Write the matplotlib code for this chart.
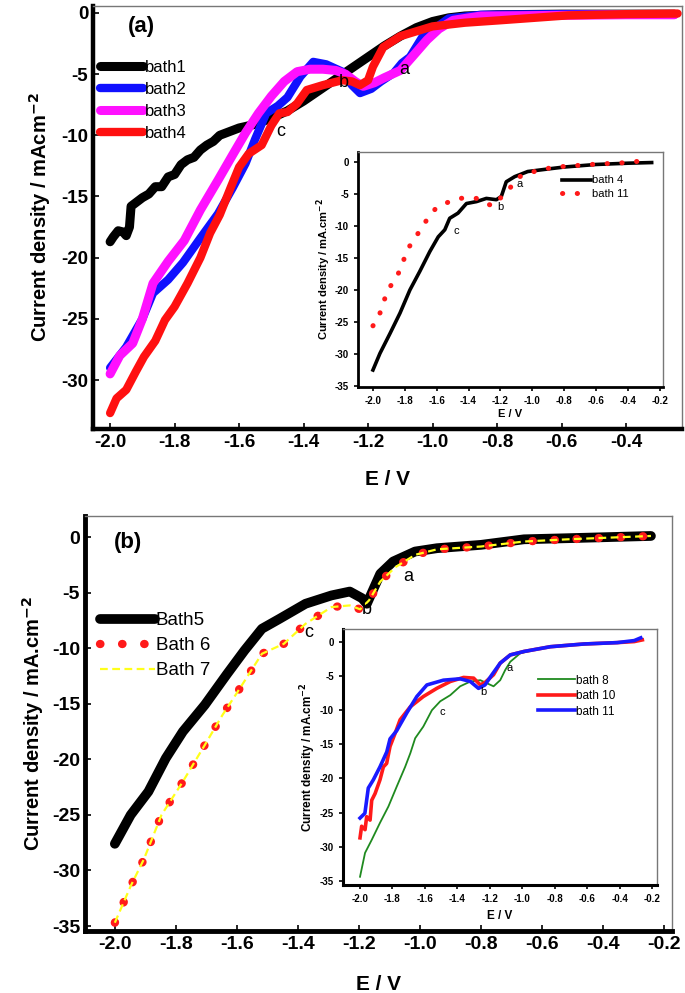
import numpy as np
import matplotlib
matplotlib.use("Agg")
from matplotlib import pyplot as plt

plt.rcParams['font.family'] = ['Liberation Sans', 'DejaVu Sans']
plt.rcParams['axes.unicode_minus'] = False

# ---- panel (a) main: baths 1-4 ----
e_b1 = [-2.0, -1.99, -1.975, -1.96, -1.95, -1.94, -1.935, -1.92, -1.9, -1.88, -1.86, -1.84, -1.82, -1.8,
        -1.78, -1.76, -1.74, -1.72, -1.7, -1.68, -1.66, -1.64, -1.6, -1.55, -1.5, -1.45, -1.4, -1.35,
        -1.3, -1.25, -1.2, -1.15, -1.1, -1.05, -1.0, -0.95, -0.9, -0.8, -0.6, -0.4, -0.25]
j_b1 = [-18.7, -18.3, -17.8, -17.9, -18.2, -17.5, -15.8, -15.5, -15.1, -14.8, -14.2, -14.2, -13.4, -13.2,
        -12.4, -12.0, -11.8, -11.2, -10.8, -10.5, -10.0, -9.8, -9.4, -9.1, -8.6, -8.0, -7.2, -6.3,
        -5.4, -4.5, -3.6, -2.7, -1.9, -1.2, -0.7, -0.4, -0.25, -0.15, -0.1, -0.1, -0.1]

e_b2 = [-2.0, -1.95, -1.9, -1.867, -1.82, -1.774, -1.72, -1.665, -1.62, -1.58, -1.55, -1.516, -1.48,
        -1.45, -1.41, -1.37, -1.33, -1.28, -1.25, -1.225, -1.19, -1.16, -1.12, -1.095, -1.07, -1.03,
        -1.0, -0.95, -0.85, -0.6, -0.4, -0.25]
j_b2 = [-29.0, -27.3, -25.0, -22.9, -21.8, -20.4, -18.4, -16.4, -14.3, -12.3, -10.3, -8.2, -7.6,
        -6.9, -5.2, -4.0, -4.2, -4.8, -5.9, -6.55, -6.2, -5.6, -4.9, -4.1, -3.6, -1.9,
        -1.4, -0.45, -0.15, -0.1, -0.1, -0.1]

e_b3 = [-2.0, -1.97, -1.93, -1.9, -1.867, -1.82, -1.77, -1.72, -1.665, -1.62, -1.58, -1.54, -1.5,
        -1.46, -1.42, -1.38, -1.34, -1.3, -1.27, -1.24, -1.215, -1.18, -1.15, -1.1, -1.06, -1.017,
        -0.98, -0.936, -0.85, -0.6, -0.4, -0.25]
j_b3 = [-29.5, -28.0, -27.0, -25.0, -22.1, -20.3, -18.6, -16.1, -13.65, -11.6, -9.8, -8.2, -6.8,
        -5.6, -4.8, -4.6, -4.6, -4.7, -5.0, -5.6, -6.0, -5.7, -5.3, -4.7, -3.5, -2.2,
        -1.3, -0.6, -0.25, -0.2, -0.15, -0.15]

e_b4 = [-2.0, -1.98, -1.95, -1.92, -1.895, -1.86, -1.83, -1.8, -1.76, -1.72, -1.69, -1.66, -1.625,
        -1.6, -1.57, -1.53, -1.5, -1.475, -1.45, -1.42, -1.39, -1.34, -1.28, -1.25, -1.225, -1.2,
        -1.185, -1.153, -1.1, -1.0, -0.9, -0.79, -0.58, -0.4, -0.24]
j_b4 = [-32.7, -31.5, -30.8, -29.3, -28.1, -26.8, -25.1, -24.0, -22.1, -20.0, -18.0, -16.5, -14.2,
        -12.6, -11.5, -10.8, -9.2, -8.2, -8.1, -7.4, -6.3, -5.9, -5.5, -5.6, -5.9, -5.5,
        -4.4, -2.8, -1.9, -1.1, -0.8, -0.6, -0.2, -0.1, -0.05]

# ---- panel (a) inset: bath 4 vs bath 11 ----
ea_b4 = [-2.0, -1.956, -1.893, -1.83, -1.768, -1.706, -1.643, -1.59, -1.549, -1.518, -1.466, -1.413,
         -1.35, -1.288, -1.225, -1.194, -1.163, -1.11, -1.028, -0.9, -0.8, -0.6, -0.4, -0.25]
ja_b4 = [-32.5, -29.9, -26.8, -23.6, -20.0, -17.1, -14.0, -11.7, -10.6, -8.8, -8.0, -6.5,
         -6.2, -5.7, -5.9, -5.4, -3.1, -2.3, -1.5, -1.1, -0.8, -0.4, -0.2, -0.1]
ea_b11 = [-2.0, -1.967, -1.946, -1.925, -1.904, -1.876, -1.847, -1.82, -1.795, -1.782, -1.743, -1.733,
          -1.69, -1.647, -1.6, -1.538, -1.48, -1.42, -1.35, -1.298, -1.248, -1.19, -1.14, -1.095,
          -1.03, -0.9, -0.8, -0.6, -0.4, -0.3, -0.26]
ja_b11 = [-25.6, -24.4, -22.9, -21.3, -19.9, -18.9, -17.8, -16.2, -14.5, -13.6, -12.2, -11.8,
          -10.1, -8.5, -7.1, -6.4, -5.8, -5.6, -5.7, -6.36, -6.9, -5.4, -4.1, -2.5,
          -1.75, -1.0, -0.7, -0.35, -0.1, 0.2, 0.8]

# ---- panel (b) main: baths 5-7 ----
e_b5 = [-2.0, -1.948, -1.89, -1.833, -1.777, -1.705, -1.633, -1.575, -1.518, -1.46, -1.375, -1.29,
        -1.23, -1.19, -1.174, -1.13, -1.088, -1.016, -0.944, -0.8, -0.659, -0.515, -0.243]
j_b5 = [-27.6, -25.0, -22.9, -19.9, -17.5, -15.1, -12.35, -10.2, -8.25, -7.35, -6.0, -5.25,
        -4.9, -5.5, -6.0, -3.3, -2.2, -1.3, -1.0, -0.7, -0.2, -0.1, 0.1]
e_b6 = [-2.0, -1.948, -1.905, -1.847, -1.777, -1.705, -1.647, -1.59, -1.518, -1.446, -1.375, -1.29,
        -1.23, -1.196, -1.167, -1.13, -1.08, -1.016, -0.944, -0.8, -0.659, -0.515, -0.243]
j_b6 = [-34.7, -31.4, -29.0, -25.0, -22.0, -18.7, -16.0, -13.6, -10.5, -9.6, -7.8, -6.3,
        -6.15, -6.5, -5.7, -4.0, -2.7, -1.6, -1.1, -0.85, -0.4, -0.2, 0.1]
e_b7 = e_b6
j_b7 = j_b6

# ---- panel (b) inset: baths 8, 10, 11 ----
eb_b8 = [-2.0, -1.969, -1.928, -1.877, -1.825, -1.774, -1.722, -1.69, -1.66, -1.61, -1.557, -1.506,
         -1.444, -1.383, -1.32, -1.259, -1.218, -1.177, -1.136, -1.105, -1.074, -1.012, -0.9,
         -0.827, -0.62, -0.415, -0.31, -0.26]
jb_b8 = [-34.4, -30.9, -29.0, -26.5, -24.1, -21.2, -18.3, -16.3, -14.1, -12.4, -10.0, -8.7,
         -7.8, -6.5, -5.8, -5.6, -6.05, -6.5, -5.6, -4.1, -2.9, -1.65, -1.0,
         -0.7, -0.3, -0.1, 0.05, 0.3]
eb_b10 = [-2.0, -1.99, -1.969, -1.959, -1.938, -1.928, -1.907, -1.877, -1.856, -1.836, -1.815, -1.784,
          -1.753, -1.69, -1.61, -1.527, -1.444, -1.362, -1.3, -1.259, -1.228, -1.177, -1.136, -1.074,
          -0.99, -0.827, -0.62, -0.415, -0.31, -0.26]
jb_b10 = [-28.7, -27.0, -27.5, -25.6, -26.1, -23.2, -22.2, -20.2, -18.3, -17.8, -15.3, -13.4,
          -11.4, -9.5, -8.0, -6.8, -5.8, -5.2, -5.3, -6.3, -5.9, -4.8, -3.1, -1.9,
          -1.4, -0.7, -0.3, -0.1, 0.05, 0.3]
eb_b11 = [-2.0, -1.97, -1.949, -1.918, -1.877, -1.835, -1.815, -1.774, -1.712, -1.65, -1.588, -1.486,
          -1.383, -1.32, -1.27, -1.23, -1.187, -1.136, -1.074, -0.99, -0.827, -0.62, -0.415,
          -0.31, -0.27]
jb_b11 = [-25.8, -25.1, -21.4, -20.2, -18.3, -16.1, -14.2, -13.0, -10.4, -8.0, -6.3, -5.6,
          -5.4, -5.8, -6.8, -6.3, -4.8, -3.1, -1.9, -1.4, -0.7, -0.3, -0.1,
          0.2, 0.6]


def style_axes(ax, spine_w, fs, tick_len):
    for s in ['left', 'bottom']:
        ax.spines[s].set_linewidth(spine_w)
        ax.spines[s].set_color('black')
    for s in ['top', 'right']:
        ax.spines[s].set_linewidth(1.0)
        ax.spines[s].set_color('#777777')
    ax.tick_params(top=False, right=False, labelsize=fs, length=tick_len, width=1.2)
    for lab in ax.get_xticklabels() + ax.get_yticklabels():
        lab.set_fontweight('bold')


fig = plt.figure(figsize=(6.85, 9.93), dpi=100)

# ---------------- panel (a) ----------------
ax1 = fig.add_axes([0.1358, 0.568, 0.860, 0.426])
ax1.plot(e_b1, j_b1, color='black', lw=6.5, solid_capstyle='round', label='bath1')
ax1.plot(e_b2, j_b2, color='#1010ff', lw=6.0, solid_capstyle='round', label='bath2')
ax1.plot(e_b3, j_b3, color='#ff10ff', lw=6.5, solid_capstyle='round', label='bath3')
ax1.plot(e_b4, j_b4, color='#ff1010', lw=6.0, solid_capstyle='round', label='bath4')
ax1.set_xlim(-2.053, -0.226)
ax1.set_ylim(-34.0, 0.57)
ax1.set_xticks(np.arange(-2.0, -0.39, 0.2))
ax1.set_xticklabels(['-2.0', '-1.8', '-1.6', '-1.4', '-1.2', '-1.0', '-0.8', '-0.6', '-0.4'])
ax1.set_yticks([0, -5, -10, -15, -20, -25, -30])
ax1.set_yticklabels(['0', '-5', '-10', '-15', '-20', '-25', '-30'])
style_axes(ax1, 3.2, 13.5, 4)
ax1.tick_params(direction='in')
ax1.set_xlabel('E / V', fontsize=15, fontweight='bold', labelpad=14)
ax1.set_ylabel('Current density / mAcm$^{\\mathbf{-2}}$', fontsize=14.5, fontweight='bold', labelpad=6)
ax1.text(0.083, 0.951, '(a)', transform=ax1.transAxes, fontsize=16, fontweight='bold',
         ha='center', va='center')
ax1.legend(loc='upper left', bbox_to_anchor=(0.012, 0.872), frameon=False, fontsize=12,
           handlelength=2.6, handletextpad=0.1, labelspacing=0.42, borderpad=0, borderaxespad=0)
ax1.text(-1.088, -4.66, 'a', fontsize=13, ha='center', va='center')
ax1.text(-1.274, -5.7, 'b', fontsize=13, ha='center', va='center')
ax1.text(-1.47, -9.7, 'c', fontsize=13, ha='center', va='center')

ax1i = fig.add_axes([0.5226, 0.6103, 0.445, 0.2367])
ax1i.plot(ea_b4, ja_b4, color='black', lw=2.6, label='bath 4')
ax1i.plot(ea_b11, ja_b11, color='#ff1a1a', lw=3.6, linestyle=(0, (0.05, 2.9)),
          dash_capstyle='round', label='bath 11')
ax1i.set_xlim(-2.094, -0.18)
ax1i.set_ylim(-35.15, 1.56)
ax1i.set_xticks(np.arange(-2.0, -0.19, 0.2))
ax1i.set_xticklabels(['-2.0', '-1.8', '-1.6', '-1.4', '-1.2', '-1.0', '-0.8', '-0.6', '-0.4', '-0.2'])
ax1i.set_yticks(np.arange(0, -36, -5))
style_axes(ax1i, 2.0, 7, 3)
ax1i.set_xlabel('E / V', fontsize=8, fontweight='bold', labelpad=2)
ax1i.set_ylabel('Current density / mA.cm$^{\\mathbf{-2}}$', fontsize=8, fontweight='bold', labelpad=1)
ax1i.legend(loc='upper left', bbox_to_anchor=(0.67, 0.9), frameon=False, fontsize=8,
            handlelength=2.6, handletextpad=0.1, labelspacing=0.3, borderpad=0, borderaxespad=0)
ax1i.text(-1.079, -3.4, 'a', fontsize=8, ha='center', va='center')
ax1i.text(-1.198, -7.0, 'b', fontsize=8, ha='center', va='center')
ax1i.text(-1.474, -10.8, 'c', fontsize=8, ha='center', va='center')

# ---------------- panel (b) ----------------
ax2 = fig.add_axes([0.124, 0.0624, 0.857, 0.418])
ax2.plot(e_b5, j_b5, color='black', lw=7, solid_capstyle='round', label='Bath5')
ax2.plot(e_b6, j_b6, color='#ff1a1a', lw=6, linestyle=(0, (0.05, 2.6)),
         dash_capstyle='round', label='Bath 6')
ax2.plot(e_b7, j_b7, color='#ffff1a', lw=1.6, linestyle=(0, (3.5, 2)), label='Bath 7')
ax2.set_xlim(-2.098, -0.174)
ax2.set_ylim(-35.45, 1.9)
ax2.set_xticks(np.arange(-2.0, -0.19, 0.2))
ax2.set_xticklabels(['-2.0', '-1.8', '-1.6', '-1.4', '-1.2', '-1.0', '-0.8', '-0.6', '-0.4', '-0.2'])
ax2.set_yticks(np.arange(0, -36, -5))
style_axes(ax2, 3.5, 14, 4)
ax2.tick_params(direction='in')
ax2.set_xlabel('E / V', fontsize=15, fontweight='bold', labelpad=16)
ax2.set_ylabel('Current density / mA.cm$^{\\mathbf{-2}}$', fontsize=14.5, fontweight='bold', labelpad=4)
ax2.text(0.073, 0.935, '(b)', transform=ax2.transAxes, fontsize=16, fontweight='bold',
         ha='center', va='center')
ax2.legend(loc='upper left', bbox_to_anchor=(0.026, 0.768), frameon=False, fontsize=13.5,
           handlelength=2.9, handletextpad=0.05, labelspacing=0.42, borderpad=0, borderaxespad=0)
ax2.text(-1.04, -3.56, 'a', fontsize=13, ha='center', va='center')
ax2.text(-1.174, -6.5, 'b', fontsize=13, ha='center', va='center')
ax2.text(-1.364, -8.6, 'c', fontsize=13, ha='center', va='center')

ax2i = fig.add_axes([0.5007, 0.1088, 0.4584, 0.2578])
ax2i.plot(eb_b8, jb_b8, color='#1f8a1f', lw=1.3, label='bath 8')
ax2i.plot(eb_b10, jb_b10, color='#ff1a1a', lw=2.6, label='bath 10')
ax2i.plot(eb_b11, jb_b11, color='#1a1aff', lw=2.6, label='bath 11')
ax2i.set_xlim(-2.105, -0.17)
ax2i.set_ylim(-35.6, 1.9)
ax2i.set_xticks(np.arange(-2.0, -0.19, 0.2))
ax2i.set_xticklabels(['-2.0', '-1.8', '-1.6', '-1.4', '-1.2', '-1.0', '-0.8', '-0.6', '-0.4', '-0.2'])
ax2i.set_yticks(np.arange(0, -36, -5))
style_axes(ax2i, 2.2, 7, 3)
ax2i.set_xlabel('E / V', fontsize=8.5, fontweight='bold', labelpad=4)
ax2i.set_ylabel('Current density / mA.cm$^{\\mathbf{-2}}$', fontsize=8.5, fontweight='bold', labelpad=1)
ax2i.legend(loc='upper left', bbox_to_anchor=(0.62, 0.822), frameon=False, fontsize=8.5,
            handlelength=3.2, handletextpad=0.05, labelspacing=0.3, borderpad=0, borderaxespad=0)
ax2i.text(-1.08, -3.8, 'a', fontsize=8, ha='center', va='center')
ax2i.text(-1.24, -7.3, 'b', fontsize=8, ha='center', va='center')
ax2i.text(-1.49, -10.2, 'c', fontsize=8, ha='center', va='center')

fig.savefig('out.png', dpi=100)
